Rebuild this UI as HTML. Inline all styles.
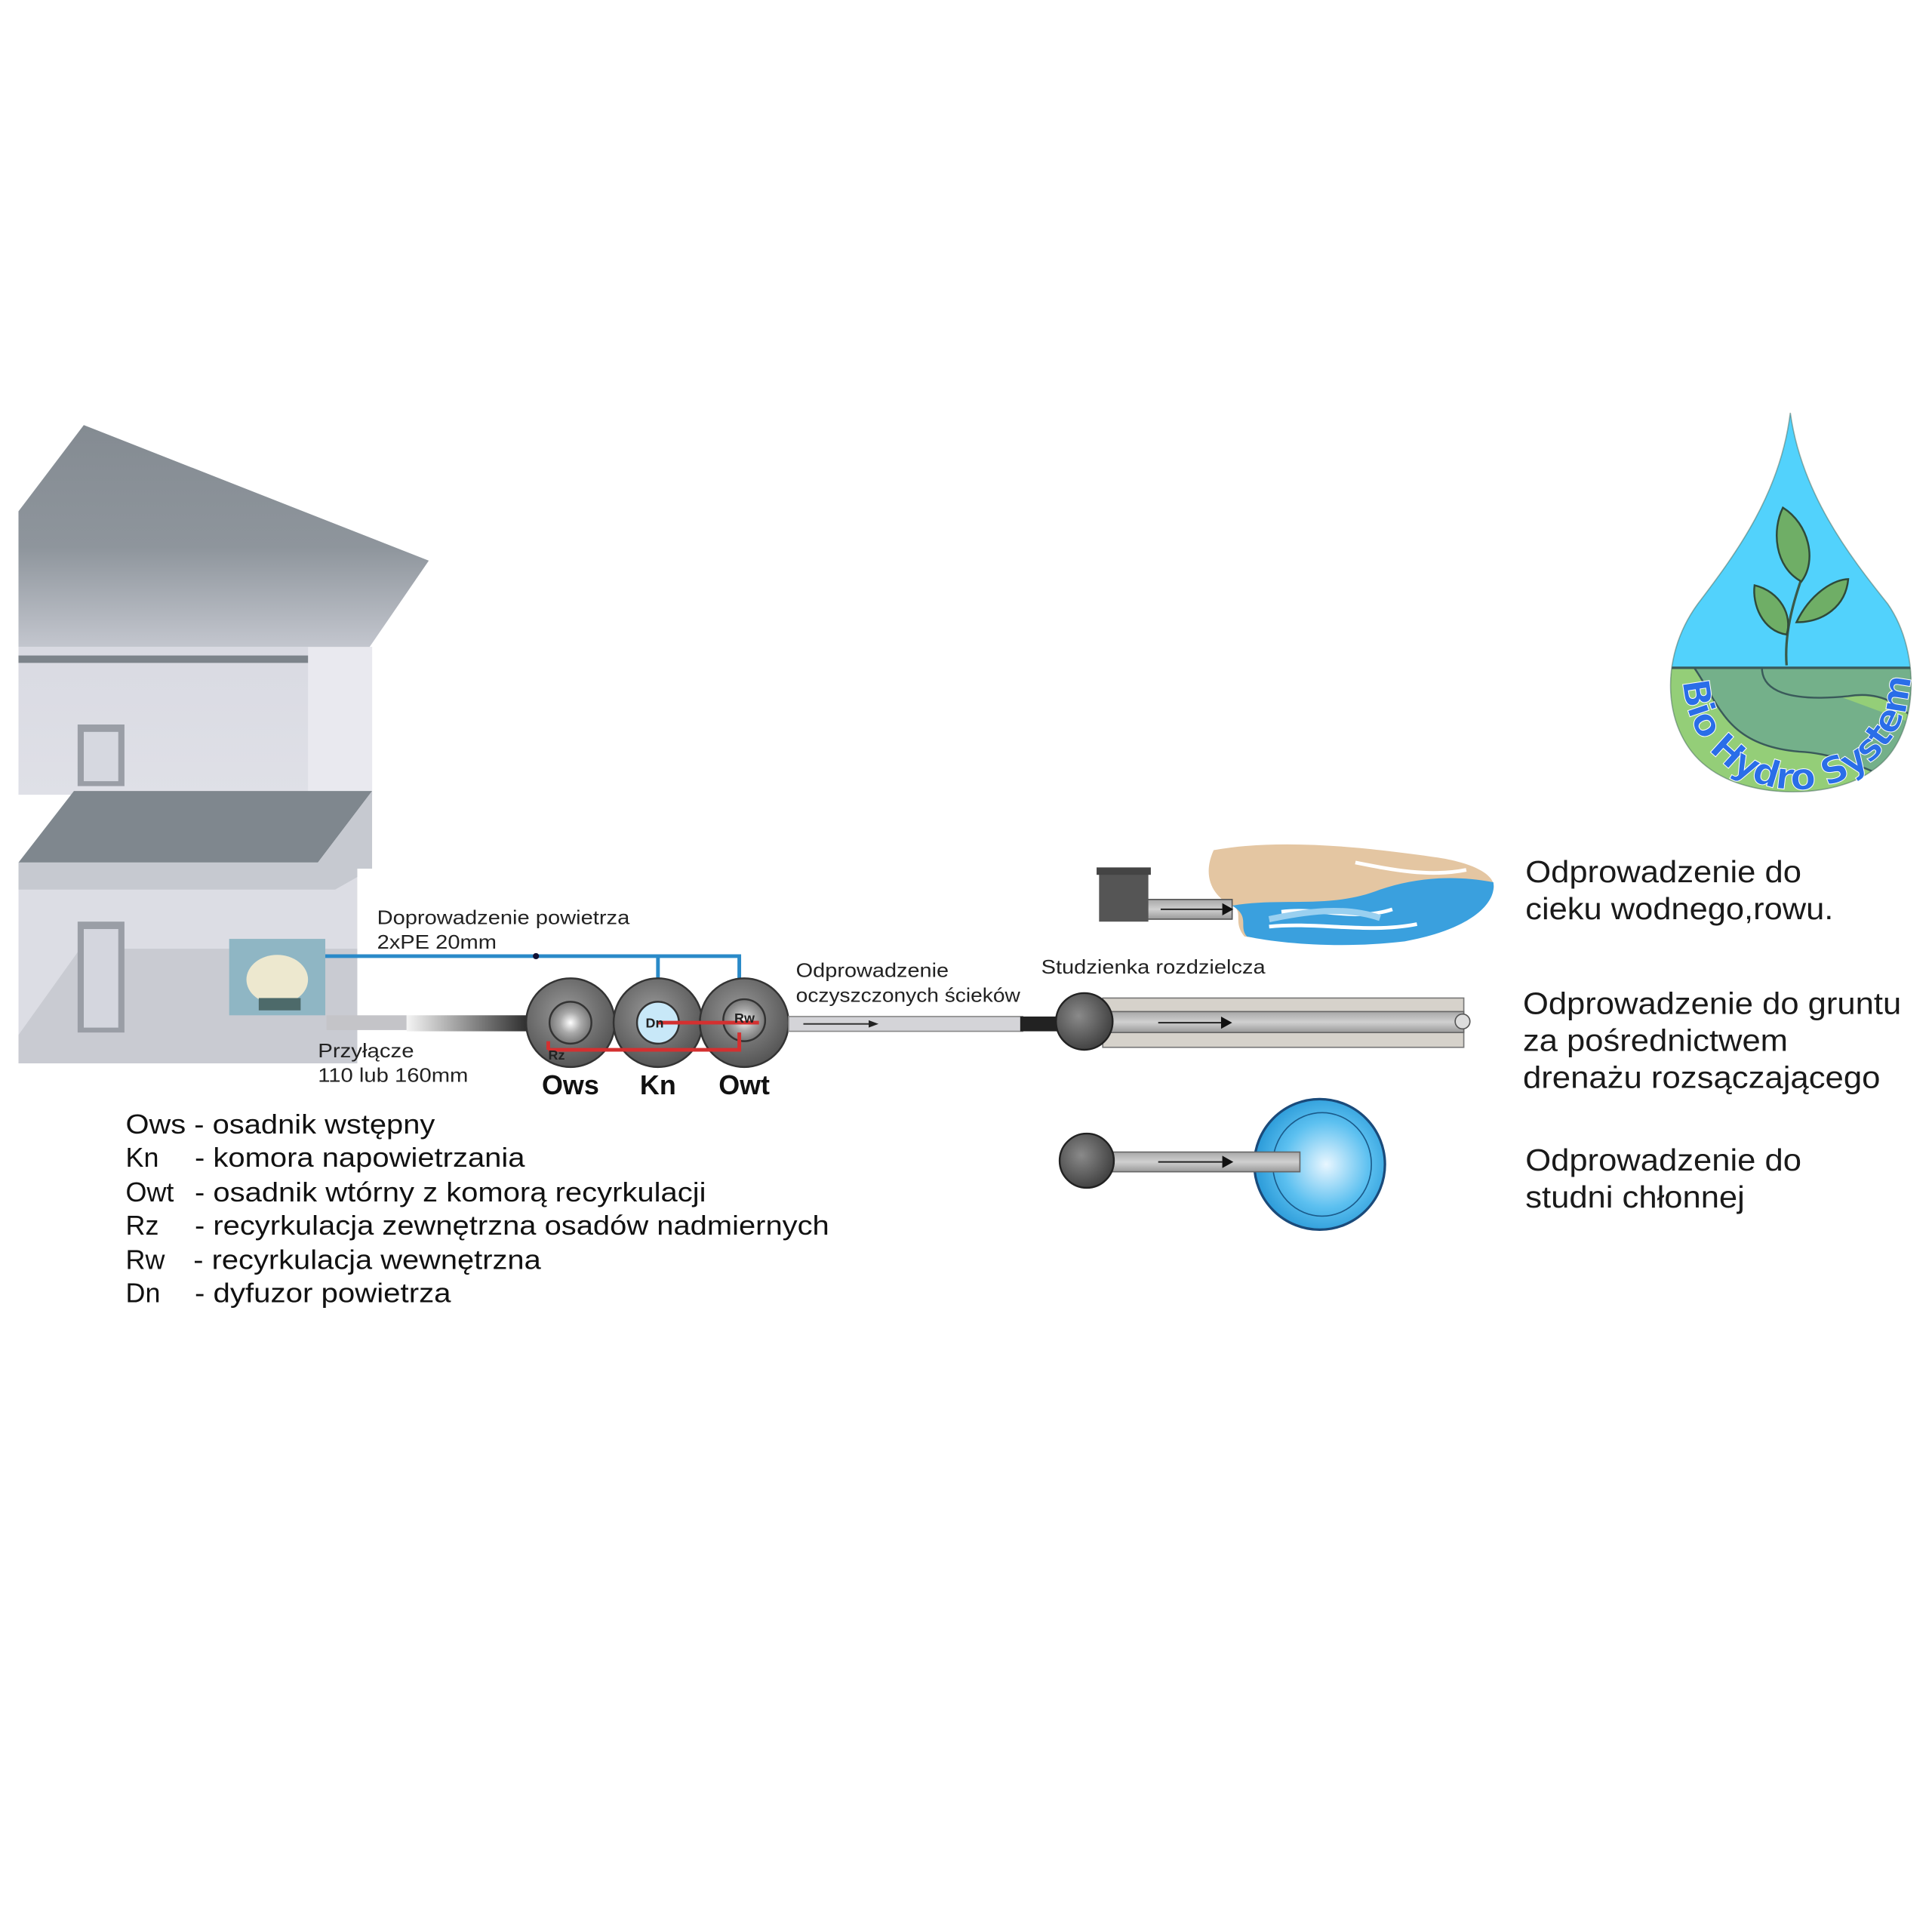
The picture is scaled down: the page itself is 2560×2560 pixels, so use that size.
<!DOCTYPE html>
<html><head><meta charset="utf-8"><style>html,body{margin:0;padding:0;background:#fff}svg{display:block}</style></head>
<body>
<svg width="2560" height="2560" viewBox="0 0 1568 1568" xmlns="http://www.w3.org/2000/svg" font-family="Liberation Sans, sans-serif">
<defs>
<linearGradient id="roof" x1="0" y1="0" x2="0" y2="1"><stop offset="0" stop-color="#848b92"/><stop offset="0.55" stop-color="#8e959c"/><stop offset="1" stop-color="#c3c6ce"/></linearGradient>
<linearGradient id="wall" x1="0" y1="0" x2="0" y2="1"><stop offset="0" stop-color="#d9dae2"/><stop offset="1" stop-color="#dfe0e7"/></linearGradient>
<linearGradient id="pipe" x1="0" y1="0" x2="1" y2="0"><stop offset="0" stop-color="#f4f4f4"/><stop offset="1" stop-color="#2a2a2a"/></linearGradient>
<linearGradient id="gpipe" x1="0" y1="0" x2="0" y2="1"><stop offset="0" stop-color="#a8a8a8"/><stop offset="0.5" stop-color="#d0d0d0"/><stop offset="1" stop-color="#9a9a9a"/></linearGradient>
<radialGradient id="tank" cx="0.45" cy="0.4" r="0.6"><stop offset="0" stop-color="#9a9a9a"/><stop offset="1" stop-color="#555"/></radialGradient>
<radialGradient id="inner" cx="0.5" cy="0.5" r="0.5"><stop offset="0" stop-color="#fff"/><stop offset="0.5" stop-color="#aaa"/><stop offset="1" stop-color="#777"/></radialGradient>
<radialGradient id="well" cx="0.55" cy="0.5" r="0.55"><stop offset="0" stop-color="#e8f6ff"/><stop offset="0.6" stop-color="#5cc0f0"/><stop offset="1" stop-color="#2a9ad8"/></radialGradient>
<radialGradient id="sph" cx="0.4" cy="0.4" r="0.6"><stop offset="0" stop-color="#8a8a8a"/><stop offset="1" stop-color="#444"/></radialGradient>
<clipPath id="dropc"><path d="M1453,335 C1462,400 1500,450 1532,490 C1560,530 1558,600 1520,625 C1490,648 1420,650 1385,622 C1350,595 1345,535 1378,490 C1410,448 1445,400 1453,335 Z"/></clipPath>
<path id="arcT" d="M1366,550 A88,86 0 0 0 1550,552"/>
</defs>
<rect width="1568" height="1568" fill="#fff"/>

<!-- House -->
<rect x="15" y="525" width="287" height="120" fill="url(#wall)"/>
<rect x="250" y="525" width="52" height="120" fill="#e9e9ef"/>
<path d="M15,415 L68,345 L348,455 L300,525 L15,525 Z" fill="url(#roof)"/>
<rect x="15" y="532" width="235" height="6" fill="#7d848b"/>
<rect x="63" y="588" width="38" height="50" fill="#9a9ea6"/><rect x="68" y="594" width="28" height="40" fill="#d6d8e0"/>
<rect x="15" y="700" width="275" height="163" fill="#dcdde4"/>
<path d="M15,840 L65,770 L290,770 L290,863 L15,863 Z" fill="#c9cbd2"/>
<path d="M15,700 L60,642 L302,642 L258,700 Z" fill="#7f878e"/>
<path d="M15,700 L258,700 L302,642 L302,705 L272,722 L15,722 Z" fill="#c6c9d0"/>
<rect x="290" y="705" width="12" height="160" fill="#fff"/>
<rect x="63" y="748" width="38" height="90" fill="#9a9ea6"/><rect x="68" y="754" width="28" height="80" fill="#d4d6de"/>
<rect x="186" y="762" width="78" height="62" fill="#8fb6c4"/>
<ellipse cx="225" cy="795" rx="25" ry="20" fill="#ede8cf"/><rect x="210" y="810" width="34" height="10" fill="#4d6a6a"/>

<!-- air lines -->
<path d="M264,776 H600 V818 M534,776 V818" stroke="#2a8ac8" stroke-width="3" fill="none"/>
<circle cx="435" cy="776" r="2.5" fill="#113"/>
<text x="306" y="750" font-size="16" fill="#222" textLength="205" lengthAdjust="spacingAndGlyphs">Doprowadzenie powietrza</text>
<text x="306" y="770" font-size="16" fill="#222" textLength="97" lengthAdjust="spacingAndGlyphs">2xPE 20mm</text>

<!-- inlet pipe -->
<rect x="265" y="824" width="65" height="12" fill="#c4c4c8"/>
<rect x="330" y="824" width="100" height="13" fill="url(#pipe)"/>
<text x="258" y="858" font-size="16" fill="#222" textLength="78" lengthAdjust="spacingAndGlyphs">Przyłącze</text>
<text x="258" y="878" font-size="16" fill="#222" textLength="122" lengthAdjust="spacingAndGlyphs">110 lub 160mm</text>

<!-- tanks -->
<g stroke="#333" stroke-width="1.5">
<circle cx="463" cy="830" r="36" fill="url(#tank)"/>
<circle cx="534" cy="830" r="36" fill="url(#tank)"/>
<circle cx="604" cy="830" r="36" fill="url(#tank)"/>
<circle cx="463" cy="830" r="17" fill="url(#inner)"/>
<circle cx="534" cy="830" r="17" fill="#c8e8f8"/>
<circle cx="604" cy="828" r="17" fill="url(#inner)"/>
</g>
<path d="M534,830 H616 M445,852 H600 V838 M445,852 V845" stroke="#d43030" stroke-width="3" fill="none"/>
<text x="524" y="834" font-size="11" font-weight="bold" fill="#222">Dn</text>
<text x="596" y="830" font-size="11" font-weight="bold" fill="#222">Rw</text>
<text x="445" y="860" font-size="11" font-weight="bold" fill="#222">Rz</text>
<text x="463" y="888" font-size="22" font-weight="bold" text-anchor="middle" fill="#111">Ows</text>
<text x="534" y="888" font-size="22" font-weight="bold" text-anchor="middle" fill="#111">Kn</text>
<text x="604" y="888" font-size="22" font-weight="bold" text-anchor="middle" fill="#111">Owt</text>

<!-- outlet -->
<rect x="640" y="825" width="190" height="12" fill="#d4d4d8" stroke="#888" stroke-width="1"/>
<path d="M652,831 H705" stroke="#333" stroke-width="1.2"/><path d="M705,828 L713,831 L705,834 Z" fill="#222"/>
<rect x="828" y="825" width="35" height="12" fill="#222"/>
<text x="646" y="793" font-size="16" fill="#222" textLength="124" lengthAdjust="spacingAndGlyphs">Odprowadzenie</text>
<text x="646" y="813" font-size="16" fill="#222" textLength="182" lengthAdjust="spacingAndGlyphs">oczyszczonych ścieków</text>
<text x="845" y="790" font-size="16" fill="#222" textLength="182" lengthAdjust="spacingAndGlyphs">Studzienka rozdzielcza</text>

<!-- drainage -->
<rect x="895" y="810" width="293" height="40" fill="#d6d2cb" stroke="#777" stroke-width="1"/>
<rect x="895" y="821" width="293" height="17" fill="url(#gpipe)" stroke="#666" stroke-width="1"/>
<circle cx="1187" cy="829" r="6" fill="#ddd" stroke="#555"/>
<circle cx="880" cy="829" r="23" fill="url(#sph)" stroke="#222" stroke-width="1.5"/>
<path d="M940,830 H992" stroke="#222" stroke-width="1.2"/><path d="M991,825 L1000,830 L991,835 Z" fill="#111"/>

<!-- stream -->
<path d="M985,690 C1040,680 1110,688 1160,695 C1200,700 1215,712 1212,722 C1205,745 1170,758 1120,762 C1080,766 1040,764 1010,760 C1000,748 1010,740 1000,735 C985,728 975,712 985,690 Z" fill="#e4c6a2"/>
<path d="M1000,735 C1040,728 1080,738 1120,722 C1150,712 1180,710 1212,716 C1215,735 1190,755 1140,764 C1090,770 1040,766 1012,760 C1005,752 1015,744 1000,735 Z" fill="#3aa0de"/>
<path d="M1040,740 C1070,736 1100,748 1130,738 M1030,752 C1070,748 1110,758 1150,750 M1100,700 C1130,706 1160,712 1190,706" stroke="#fff" stroke-width="3" fill="none"/>
<path d="M1030,746 C1060,740 1090,735 1120,745" stroke="#9ad0f0" stroke-width="5" fill="none"/>
<rect x="928" y="730" width="72" height="16" fill="url(#gpipe)" stroke="#555" stroke-width="1"/>
<path d="M942,738 H992" stroke="#222" stroke-width="1.2"/><path d="M992,733 L1001,738 L992,743 Z" fill="#111"/>
<rect x="892" y="708" width="40" height="40" fill="#555"/><rect x="890" y="704" width="44" height="6" fill="#444"/>

<!-- well -->
<ellipse cx="1071" cy="945" rx="53" ry="53" fill="url(#well)" stroke="#1a4a7a" stroke-width="2"/>
<ellipse cx="1073" cy="945" rx="40" ry="42" fill="none" stroke="#1a5a8a" stroke-width="1"/>
<rect x="903" y="935" width="152" height="16" fill="url(#gpipe)" stroke="#666" stroke-width="1"/>
<circle cx="882" cy="942" r="22" fill="url(#sph)" stroke="#222" stroke-width="1.5"/>
<path d="M940,943 H992" stroke="#222" stroke-width="1.2"/><path d="M992,938 L1001,943 L992,948 Z" fill="#111"/>

<!-- right texts -->
<g font-size="25" fill="#1a1a1a" lengthAdjust="spacingAndGlyphs">
<text x="1238" y="716" textLength="224" lengthAdjust="spacingAndGlyphs">Odprowadzenie do</text>
<text x="1238" y="746" textLength="250" lengthAdjust="spacingAndGlyphs">cieku wodnego,rowu.</text>
<text x="1236" y="823" textLength="307" lengthAdjust="spacingAndGlyphs">Odprowadzenie do gruntu</text>
<text x="1236" y="853" textLength="215" lengthAdjust="spacingAndGlyphs">za pośrednictwem</text>
<text x="1236" y="883" textLength="290" lengthAdjust="spacingAndGlyphs">drenażu rozsączającego</text>
<text x="1238" y="950" textLength="224" lengthAdjust="spacingAndGlyphs">Odprowadzenie do</text>
<text x="1238" y="980" textLength="178" lengthAdjust="spacingAndGlyphs">studni chłonnej</text>
</g>

<!-- legend -->
<g font-size="22" fill="#111">
<text x="102" y="920" textLength="251" lengthAdjust="spacingAndGlyphs">Ows - osadnik wstępny</text>
<text x="102" y="947">Kn</text><text x="158" y="947" textLength="268" lengthAdjust="spacingAndGlyphs">- komora napowietrzania</text>
<text x="102" y="975">Owt</text><text x="158" y="975" textLength="415" lengthAdjust="spacingAndGlyphs">- osadnik wtórny z komorą recyrkulacji</text>
<text x="102" y="1002">Rz</text><text x="158" y="1002" textLength="515" lengthAdjust="spacingAndGlyphs">- recyrkulacja zewnętrzna osadów nadmiernych</text>
<text x="102" y="1030">Rw</text><text x="157" y="1030" textLength="282" lengthAdjust="spacingAndGlyphs">- recyrkulacja wewnętrzna</text>
<text x="102" y="1057">Dn</text><text x="158" y="1057" textLength="208" lengthAdjust="spacingAndGlyphs">- dyfuzor powietrza</text>
</g>

<!-- logo -->
<g clip-path="url(#dropc)">
<rect x="1340" y="330" width="230" height="330" fill="#52d2fc"/>
<rect x="1340" y="542" width="230" height="120" fill="#94ce78"/>
<path d="M1375,542 C1395,570 1400,605 1460,610 C1500,612 1520,630 1560,640 L1560,542 Z M1430,542 C1430,560 1450,570 1500,565 C1530,560 1545,575 1560,590" fill="#74b08a" stroke="#3a5a5a" stroke-width="1.5"/>
<path d="M1340,542 H1570" stroke="#3a5a5a" stroke-width="2"/>
</g>
<path d="M1453,335 C1462,400 1500,450 1532,490 C1560,530 1558,600 1520,625 C1490,648 1420,650 1385,622 C1350,595 1345,535 1378,490 C1410,448 1445,400 1453,335 Z" fill="none" stroke="#4a6a5a" stroke-width="1" opacity="0.5"/>
<path d="M1450,540 C1448,515 1455,490 1462,470" stroke="#3a5a4a" stroke-width="2" fill="none"/>
<path d="M1462,472 C1440,460 1438,430 1447,412 C1468,425 1475,455 1462,472 Z" fill="#6fae66" stroke="#2f4a3a" stroke-width="1.5"/>
<path d="M1458,505 C1470,480 1490,470 1500,470 C1498,492 1480,505 1458,505 Z" fill="#6fae66" stroke="#2f4a3a" stroke-width="1.5"/>
<path d="M1450,515 C1430,512 1422,490 1424,475 C1445,480 1455,500 1450,515 Z" fill="#6fae66" stroke="#2f4a3a" stroke-width="1.5"/>
<text font-family="DejaVu Sans, sans-serif" font-size="30" font-weight="bold" fill="#2a6ee8" stroke="#fff" stroke-width="0.6"><textPath href="#arcT" startOffset="1%" textLength="285" lengthAdjust="spacing">Bio Hydro System</textPath></text>
</svg>
</body></html>
